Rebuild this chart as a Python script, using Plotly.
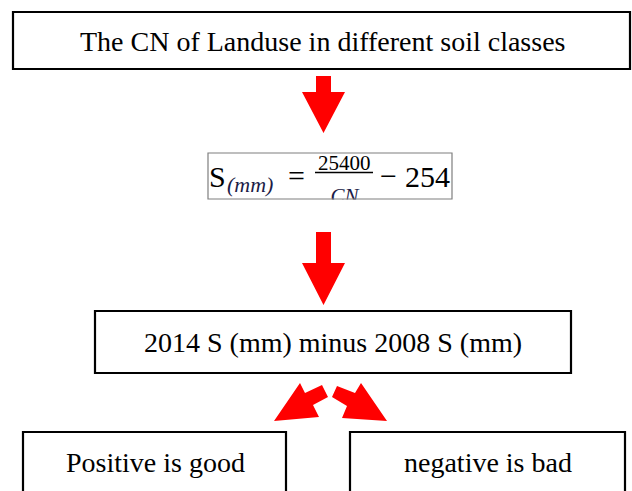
import plotly.graph_objects as go

# ---- content (text) ----
box_labels = [
    "The CN of Landuse in different soil classes",
    "2014 S (mm) minus 2008 S (mm)",
    "Positive is good",
    "negative is bad",
]
formula_S = "S"
formula_sub = "(mm)"
formula_eq = "="
formula_num = "25400"
formula_den = "CN"
formula_minus = "\u2212"
formula_const = "254"

# ---- layout geometry (pixel coords, y downward) ----
W, H = 632, 491
boxes = [  # x0, y0, x1, y1
    (13, 12, 630, 69),
    (95, 311, 571, 373),
    (23, 432, 286, 500),
    (350, 432, 625, 500),
]
label_pos = [(322, 41), (333, 342), (155, 462), (488, 462)]
formula_box = (208, 153, 452, 199)

down_arrows = [  # shaft x0,x1, shaft top, head y, head x0,x1, tip y, centre x
    (316, 331, 76, 92, 302, 345, 133, 323.5),
    (316, 331, 232, 263, 302, 345, 305, 323.5),
]
left_arrow = [(274, 421), (300, 383), (305, 393), (322, 385), (328, 397),
              (313, 405), (319, 417)]
right_arrow = [(387, 421), (361, 383), (355, 393), (337, 386), (332, 397),
               (347, 406), (342, 418)]

RED = "#FF0000"
SERIF = "Liberation Serif, Times New Roman, DejaVu Serif, serif"

fig = go.Figure()

def poly_path(pts):
    return "M " + " L ".join(f"{x},{y}" for x, y in pts) + " Z"

shapes = []
for (x0, y0, x1, y1) in boxes:
    shapes.append(dict(type="rect", x0=x0, y0=y0, x1=x1, y1=y1,
                       line=dict(color="black", width=2.2),
                       fillcolor="rgba(0,0,0,0)", layer="above"))

for (sx0, sx1, st, hy, hx0, hx1, ty, cx) in down_arrows:
    pts = [(sx0, st), (sx1, st), (sx1, hy), (hx1, hy), (cx, ty), (hx0, hy), (sx0, hy)]
    shapes.append(dict(type="path", path=poly_path(pts), fillcolor=RED,
                       line=dict(width=0), layer="above"))
for pts in (left_arrow, right_arrow):
    shapes.append(dict(type="path", path=poly_path(pts), fillcolor=RED,
                       line=dict(width=0), layer="above"))

# fraction bar
shapes.append(dict(type="line", x0=315, x1=373, y0=172.5, y1=172.5,
                   line=dict(color="black", width=1.5), layer="above"))
# white mask clipping the denominator below the formula box
shapes.append(dict(type="rect", x0=320, x1=370, y0=199.5, y1=215,
                   fillcolor="white", line=dict(width=0), layer="above"))
fx0, fy0, fx1, fy1 = formula_box
shapes.append(dict(type="rect", x0=fx0, y0=fy0, x1=fx1, y1=fy1,
                   line=dict(color="#7f7f7f", width=1.2),
                   fillcolor="rgba(0,0,0,0)", layer="above"))

# denominator as trace text so that the mask can clip it
fig.add_trace(go.Scatter(x=[344.5], y=[198], mode="text", text=[formula_den],
                         textfont=dict(family=SERIF, size=21, color="#1c1c48",
                                       style="italic"),
                         textposition="middle center", hoverinfo="skip",
                         showlegend=False))

annotations = []
for lab, (x, y) in zip(box_labels, label_pos):
    annotations.append(dict(x=x, y=y, text=lab, showarrow=False, borderpad=0,
                            font=dict(family=SERIF, size=28, color="black"),
                            xanchor="center", yanchor="middle"))

def ann(x, y, t, size, color="black", italic=False, xanchor="left"):
    if italic:
        t = f"<i>{t}</i>"
    annotations.append(dict(x=x, y=y, text=t, showarrow=False, borderpad=0,
                            font=dict(family=SERIF, size=size, color=color),
                            xanchor=xanchor, yanchor="middle"))

ann(208, 176, formula_S, 30)
ann(226, 184, formula_sub, 22, color="#1c1c48", italic=True)
ann(296, 175, formula_eq, 30, xanchor="center")
ann(344, 163, formula_num, 21, xanchor="center")
ann(388, 175, formula_minus, 30, xanchor="center")
ann(404, 176, formula_const, 30)

fig.update_layout(
    width=W, height=H,
    margin=dict(l=0, r=0, t=0, b=0, pad=0),
    paper_bgcolor="white", plot_bgcolor="white",
    xaxis=dict(range=[0, W], visible=False, fixedrange=True),
    yaxis=dict(range=[H, 0], visible=False, fixedrange=True),
    shapes=shapes, annotations=annotations,
    showlegend=False,
)

fig.write_html("out.html", config={"displayModeBar": False},
               post_script="document.body.style.margin='0';")
